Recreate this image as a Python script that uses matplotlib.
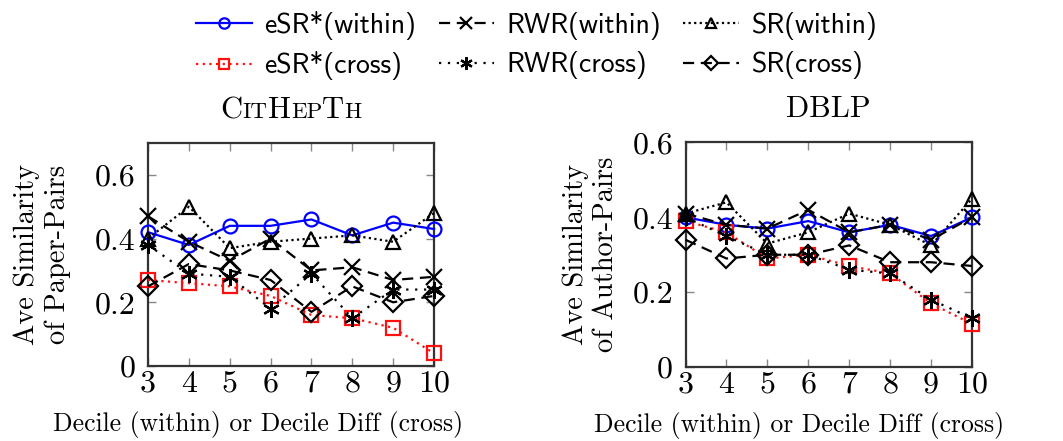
import matplotlib
matplotlib.use("Agg")
import matplotlib.pyplot as plt
from matplotlib.offsetbox import TextArea, HPacker, AnchoredOffsetbox

deciles = [3, 4, 5, 6, 7, 8, 9, 10]

# CitHepTh
cit_esr_within = [0.42, 0.38, 0.44, 0.44, 0.46, 0.41, 0.45, 0.43]
cit_esr_cross = [0.27, 0.26, 0.25, 0.22, 0.16, 0.15, 0.12, 0.04]
cit_rwr_within = [0.47, 0.39, 0.33, 0.40, 0.30, 0.31, 0.27, 0.28]
cit_rwr_cross = [0.38, 0.29, 0.28, 0.18, 0.29, 0.15, 0.24, 0.24]
cit_sr_within = [0.40, 0.50, 0.37, 0.39, 0.40, 0.41, 0.39, 0.48]
cit_sr_cross = [0.25, 0.32, 0.30, 0.27, 0.17, 0.25, 0.20, 0.22]

# DBLP
dblp_esr_within = [0.40, 0.38, 0.37, 0.39, 0.36, 0.38, 0.35, 0.40]
dblp_esr_cross = [0.39, 0.36, 0.29, 0.30, 0.27, 0.25, 0.17, 0.115]
dblp_rwr_within = [0.41, 0.38, 0.37, 0.42, 0.36, 0.38, 0.34, 0.40]
dblp_rwr_cross = [0.40, 0.35, 0.30, 0.30, 0.26, 0.25, 0.18, 0.13]
dblp_sr_within = [0.41, 0.44, 0.33, 0.36, 0.41, 0.38, 0.325, 0.45]
dblp_sr_cross = [0.34, 0.29, 0.30, 0.30, 0.325, 0.28, 0.28, 0.27]

series_names = ["eSR*(within)", "eSR*(cross)", "RWR(within)", "RWR(cross)",
                "SR(within)", "SR(cross)"]
ytick_vals = [0, 0.2, 0.4, 0.6]
ytick_labels = ["0", "0.2", "0.4", "0.6"]

styles = [
    dict(color="#0000ff", ls="-", marker="o", ms=10, mfc="none", mew=1.6),
    dict(color="#ff1010", ls=(0, (1, 2)), marker="s", ms=10, mfc="none", mew=1.6),
    dict(color="black", ls=(0, (5, 3)), marker="x", ms=12, mew=1.6),
    dict(color="black", ls=(0, (1, 3)), marker=(6, 2, 0), ms=12, mew=1.6),
    dict(color="black", ls=(0, (1, 1.5)), marker="^", ms=10, mfc="none", mew=1.6),
    dict(color="black", ls=(0, (5, 3)), marker="D", ms=10, mfc="none", mew=1.6),
]

serif = "cmr10"
fig = plt.figure(figsize=(10.63, 4.41), dpi=100)
ax1 = fig.add_axes([148 / 1063, 1 - 366 / 441, 286 / 1063, 223 / 441])
ax2 = fig.add_axes([685.5 / 1063, 1 - 367 / 441, 286.5 / 1063, 224.5 / 441])

panels = [
    (ax1, [cit_esr_within, cit_esr_cross, cit_rwr_within, cit_rwr_cross,
           cit_sr_within, cit_sr_cross], 0.7, "Ave Similarity\nof Paper-Pairs",
     -0.37, 0.385),
    (ax2, [dblp_esr_within, dblp_esr_cross, dblp_rwr_within, dblp_rwr_cross,
           dblp_sr_within, dblp_sr_cross], 0.6, "Ave Similarity\nof Author-Pairs",
     -0.33, 0.395),
]

handles = []
for ax, data, ytop, ylab, ylx, xlx in panels:
    hs = []
    for vals, st, name in zip(data, styles, series_names):
        h, = ax.plot(deciles, vals, lw=1.6, label=name, clip_on=False, zorder=3, **st)
        hs.append(h)
    handles = hs
    ax.set_xlim(3, 10)
    ax.set_ylim(0, ytop)
    ax.set_xticks(deciles)
    ax.set_xticklabels([str(d) for d in deciles], fontfamily=serif, fontsize=23)
    ax.set_yticks(ytick_vals)
    ax.set_yticklabels(ytick_labels, fontfamily=serif, fontsize=23)
    ax.tick_params(direction="in", top=True, right=True, length=6, width=1.0,
                   color="#888888")
    ax.tick_params(axis="x", pad=3)
    ax.tick_params(axis="y", pad=9)
    for sp in ax.spines.values():
        sp.set_linewidth(1.6)
        sp.set_color("#333333")
    ax.set_ylabel(ylab, fontfamily=serif, fontsize=20.5, linespacing=1.2,
                  va="center", ha="center")
    ax.yaxis.set_label_coords(ylx, 0.5)
    ax.set_xlabel("Decile (within) or Decile Diff (cross)", fontfamily=serif,
                  fontsize=18.5, va="center", ha="center")
    ax.xaxis.set_label_coords(xlx, -0.262)

# small-caps title for CitHepTh
pieces = [("C", 22), ("IT", 16.5), ("H", 22), ("EP", 16.5), ("T", 22), ("H", 16.5)]
areas = [TextArea(t, textprops=dict(fontfamily=serif, fontsize=s)) for t, s in pieces]
pack = HPacker(children=areas, align="baseline", pad=0, sep=0)
ab = AnchoredOffsetbox(loc="lower center", child=pack, frameon=False, pad=0,
                       borderpad=0, bbox_to_anchor=(0.5, 1.085),
                       bbox_transform=ax1.transAxes)
ax1.add_artist(ab)
ax2.text(0.5, 1.085, "DBLP", transform=ax2.transAxes, ha="center", va="bottom",
         fontfamily=serif, fontsize=22)

leg = fig.legend(handles=handles, loc="upper center", bbox_to_anchor=(0.505, 1.0),
                 ncol=3, frameon=False, prop=dict(family="cmss10", size=20),
                 handlelength=2.0, handletextpad=0.45, columnspacing=0.8,
                 labelspacing=0.4, markerscale=0.75, borderaxespad=0.0)

fig.savefig("out.png", dpi=100)
